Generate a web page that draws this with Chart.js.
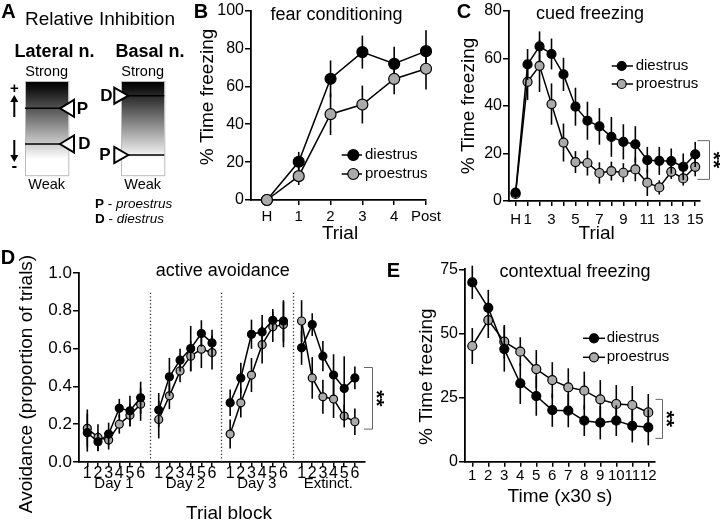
<!DOCTYPE html>
<html>
<head>
<meta charset="utf-8">
<title>Estrous phase and fear behaviour</title>
<script src="https://cdn.jsdelivr.net/npm/chart.js@4.4.1/dist/chart.umd.min.js"></script>
<style>
  body { margin: 0; background: #fff; }
  #figura { position: relative; width: 720px; height: 524px; overflow: hidden; background: #fff; }
  #figura canvas { position: absolute; }
</style>
</head>
<body>
<div id="figura">
  <canvas id="panel_a" width="200" height="240" style="left:0;top:0"></canvas>
  <canvas id="grafica_b" width="260" height="250" style="left:190px;top:0"></canvas>
  <canvas id="grafica_c" width="280" height="250" style="left:440px;top:0"></canvas>
  <canvas id="grafica_d" width="400" height="274" style="left:0;top:250px"></canvas>
  <canvas id="grafica_e" width="340" height="274" style="left:380px;top:250px"></canvas>
</div>
<script>
var FUENTE = '"Liberation Sans", Arial, Helvetica, sans-serif';
var GRIS = '#aaaaaa';

// B - fear conditioning
var ensayos_B = ['H', '1', '2', '3', '4', 'Post'];
var diestrus_B = [0, 20.2, 64.0, 78.1, 71.9, 78.6];
var diestrus_B_err = [0, 5.2, 9.7, 8.7, 9.0, 11.0];
var proestrus_B = [0, 12.6, 45.3, 50.4, 63.9, 69.3];
var proestrus_B_err = [0, 4.7, 11.0, 10.0, 8.0, 11.0];

// C - cued freezing
var ensayos_C = ['H', '1', '', '3', '', '5', '', '7', '', '9', '', '11', '', '13', '', '15'];
var diestrus_C = [3.5, 57.5, 65.1, 61.9, 53.3, 39.7, 33.8, 31.4, 27.0, 24.9, 23.9, 17.2, 16.9, 16.8, 14.4, 19.6];
var diestrus_C_err = [0, 6.5, 6.3, 6.5, 7.0, 8.0, 8.0, 7.7, 8.4, 7.4, 7.6, 5.6, 5.9, 5.3, 5.6, 5.3];
var proestrus_C = [3.0, 50.2, 56.9, 40.8, 24.6, 16.4, 16.0, 11.8, 12.6, 11.9, 13.3, 7.7, 5.7, 12.3, 9.5, 14.4];
var proestrus_C_err = [0, 7.7, 11.0, 8.7, 8.0, 4.6, 5.3, 4.5, 4.0, 4.0, 5.0, 5.6, 3.0, 3.0, 3.0, 4.0];

// D - active avoidance (6 blocks per day)
var bloques_D = ['1', '2', '3', '4', '5', '6'];
var dias_D = ['Day 1', 'Day 2', 'Day 3', 'Extinct.'];
var diestrus_D = [0.155, 0.107, 0.148, 0.284, 0.271, 0.340,
                  0.275, 0.451, 0.539, 0.600, 0.680, 0.630,
                  0.313, 0.445, 0.676, 0.688, 0.750, 0.746,
                  0.604, 0.727, 0.560, 0.460, 0.389, 0.445];
var diestrus_D_err = [0.10, 0.05, 0.06, 0.05, 0.08, 0.085,
                      0.09, 0.10, 0.06, 0.12, 0.07, 0.07,
                      0.07, 0.08, 0.077, 0.09, 0.06, 0.11,
                      0.09, 0.06, 0.08, 0.11, 0.17, 0.06];
var proestrus_D = [0.178, 0.130, 0.116, 0.200, 0.248, 0.306,
                   0.225, 0.350, 0.482, 0.560, 0.597, 0.579,
                   0.148, 0.313, 0.460, 0.621, 0.715, 0.727,
                   0.746, 0.445, 0.345, 0.333, 0.243, 0.213];
var proestrus_D_err = [0.10, 0.07, 0.05, 0.05, 0.06, 0.088,
                       0.10, 0.07, 0.06, 0.08, 0.10, 0.09,
                       0.077, 0.077, 0.09, 0.10, 0.08, 0.12,
                       0.11, 0.11, 0.09, 0.10, 0.06, 0.07];

// E - contextual freezing
var tiempo_E = ['1', '2', '3', '4', '5', '6', '7', '8', '9', '10', '11', '12'];
var diestrus_E = [69.9, 60.0, 43.9, 30.5, 25.6, 20.1, 19.9, 16.0, 15.2, 16.0, 14.0, 13.4];
var diestrus_E_err = [6.5, 7.0, 8.8, 8.0, 7.7, 6.5, 6.5, 6.0, 6.5, 6.0, 6.5, 7.0];
var proestrus_E = [45.1, 55.2, 46.8, 42.9, 36.1, 31.8, 29.0, 27.7, 24.3, 22.5, 22.1, 19.2];
var proestrus_E_err = [7.0, 7.0, 6.5, 5.6, 7.4, 7.0, 7.4, 7.4, 7.5, 7.4, 7.4, 7.2];

var separacion_D = 6.7;   // distance between day groups on the x scale

Chart.defaults.font.family = FUENTE;
Chart.defaults.color = '#000';

function escribir(ctx, t, x, y, fuente, alinear, rot) {
    ctx.save();
    ctx.translate(x, y);
    if (rot) ctx.rotate(rot);
    ctx.font = fuente + ' ' + FUENTE;
    ctx.fillStyle = '#000';
    ctx.textAlign = alinear || 'center';
    ctx.textBaseline = 'middle';
    ctx.fillText(t, 0, 0);
    ctx.restore();
}

function serie(nombre, xs, ys, errs, relleno, radio, orden) {
    return {
        label: nombre,
        data: ys.map(function (v, i) { return { x: xs[i], y: v, e: errs[i] }; }),
        borderColor: '#000',
        borderWidth: 1.5,
        pointRadius: radio,
        pointHoverRadius: radio,
        pointBackgroundColor: relleno,
        pointBorderColor: '#000',
        pointBorderWidth: 1.2,
        tension: 0,
        clip: false,
        order: orden
    };
}

// D: one line per day, broken with null points
function serie_dias(nombre, ys, errs, relleno, radio) {
    var datos = [];
    ys.forEach(function (v, i) {
        var g = Math.floor(i / 6);
        if (i > 0 && i % 6 == 0) datos.push({ x: g * separacion_D - 0.85, y: null });
        datos.push({ x: g * separacion_D + i % 6, y: v, e: errs[i] });
    });
    var s = serie(nombre, [], [], [], relleno, radio, 0);
    s.data = datos;
    return s;
}

function eje_x(min, max, posiciones, etiquetas, alto, tam, pad) {
    return {
        type: 'linear', min: min, max: max,
        afterBuildTicks: function (s) {
            s.ticks = posiciones.map(function (v) { return { value: v }; });
        },
        afterFit: function (s) { s.height = alto; },
        ticks: {
            autoSkip: false, maxRotation: 0, minRotation: 0, padding: pad,
            font: { size: tam }, color: '#000',
            callback: function (v, i) { return etiquetas[i]; }
        },
        grid: { display: true, drawOnChartArea: false, drawTicks: true, tickLength: 5, color: '#000', lineWidth: 1.5 },
        border: { display: true, color: '#000', width: 1.8 }
    };
}

function eje_y(max, paso, ancho, tam, decimales) {
    return {
        type: 'linear', min: 0, max: max,
        afterFit: function (s) { s.width = ancho; },
        ticks: {
            stepSize: paso, padding: 1, font: { size: tam }, color: '#000',
            callback: function (v) { return v.toFixed(decimales); }
        },
        grid: { display: true, drawOnChartArea: false, drawTicks: true, tickLength: 6, color: '#000', lineWidth: 1.5 },
        border: { display: true, color: '#000', width: 1.8 }
    };
}

var plugin_errores = {
    id: 'errores',
    beforeDatasetDraw: function (chart, args) {
        var ds = chart.data.datasets[args.index];
        var ctx = chart.ctx, xs = chart.scales.x, ys = chart.scales.y;
        ctx.save();
        ctx.strokeStyle = '#000';
        ctx.lineWidth = 1.6;
        ds.data.forEach(function (p) {
            if (p.y == null || !p.e) return;
            var x = xs.getPixelForValue(p.x);
            ctx.beginPath();
            ctx.moveTo(x, ys.getPixelForValue(p.y - p.e));
            ctx.lineTo(x, ys.getPixelForValue(p.y + p.e));
            ctx.stroke();
        });
        ctx.restore();
    }
};

function plugin_anotaciones(cfg) {
    return {
        id: 'anotaciones',
        beforeDatasetsDraw: function (chart) {
            if (!cfg.separadores) return;
            var ctx = chart.ctx, xs = chart.scales.x, ys = chart.scales.y;
            ctx.save();
            ctx.strokeStyle = '#333';
            ctx.lineWidth = 1.3;
            ctx.setLineDash([1.3, 2.2]);
            cfg.separadores.forEach(function (v) {
                var x = Math.round(xs.getPixelForValue(v)) + 0.5;
                ctx.beginPath();
                ctx.moveTo(x, ys.getPixelForValue(0));
                ctx.lineTo(x, ys.getPixelForValue(cfg.tope_separador));
                ctx.stroke();
            });
            ctx.restore();
        },
        afterDraw: function (chart) {
            var ctx = chart.ctx, xs = chart.scales.x, ys = chart.scales.y;
            escribir(ctx, cfg.letra[0], cfg.letra[1], cfg.letra[2], 'bold 20px');
            escribir(ctx, cfg.titulo[0], cfg.titulo[1], cfg.titulo[2], '18px');
            escribir(ctx, cfg.titulo_y[0], cfg.titulo_y[1], cfg.titulo_y[2], '19px', 'center', -Math.PI / 2);
            escribir(ctx, cfg.titulo_x[0], cfg.titulo_x[1], cfg.titulo_x[2], '19px');
            if (cfg.grupos) {
                cfg.grupos.etiquetas.forEach(function (t, g) {
                    escribir(ctx, t, xs.getPixelForValue(g * separacion_D + 2.5), cfg.grupos.y, '15px');
                });
            }
            if (cfg.leyenda) {
                var l = cfg.leyenda;
                l.filas.forEach(function (f) {
                    ctx.save();
                    ctx.strokeStyle = '#000';
                    ctx.lineWidth = 1.5;
                    ctx.beginPath();
                    ctx.moveTo(l.x1, f[1]);
                    ctx.lineTo(l.x2, f[1]);
                    ctx.stroke();
                    ctx.beginPath();
                    ctx.arc(l.xm, f[1], l.r, 0, Math.PI * 2);
                    ctx.fillStyle = f[2];
                    ctx.fill();
                    ctx.lineWidth = 1.2;
                    ctx.stroke();
                    ctx.restore();
                    escribir(ctx, f[0], l.xt, f[1], '15px', 'left');
                });
            }
            if (cfg.llave) {
                var k = cfg.llave;
                var x = Math.round(xs.getPixelForValue(k.x)) + 0.5;
                var y1 = ys.getPixelForValue(k.y1), y2 = ys.getPixelForValue(k.y2);
                ctx.save();
                ctx.strokeStyle = '#666';
                ctx.lineWidth = 1;
                ctx.beginPath();
                ctx.moveTo(x - k.largo, y1);
                ctx.lineTo(x, y1);
                ctx.lineTo(x, y2);
                ctx.lineTo(x - k.largo, y2);
                ctx.stroke();
                ctx.restore();
                escribir(ctx, '**', x + 3, (y1 + y2) / 2, 'bold 21px', 'center', Math.PI / 2);
            }
        }
    };
}

function crear_grafica(id, datasets, escalas, padding, cfg) {
    return new Chart(document.getElementById(id), {
        type: 'line',
        data: { datasets: datasets },
        options: {
            responsive: false,
            animation: false,
            devicePixelRatio: 1,
            events: [],
            layout: { padding: padding },
            scales: escalas,
            plugins: { legend: { display: false }, tooltip: { enabled: false } }
        },
        plugins: [plugin_errores, plugin_anotaciones(cfg)]
    });
}

function indices(n) {
    var r = [];
    for (var i = 0; i < n; i++) r.push(i);
    return r;
}

function grafica_b() {
    var xs = indices(ensayos_B.length);
    crear_grafica('grafica_b', [
        serie('diestrus', xs, diestrus_B, diestrus_B_err, '#000', 5.5, 1),
        serie('proestrus', xs, proestrus_B, proestrus_B_err, GRIS, 5.5, 0)
    ], {
        x: eje_x(-0.5, 5, xs, ensayos_B, 50, 15, 3),
        y: eje_y(100, 20, 61, 16, 0)
    }, { left: 0, right: 24, top: 10, bottom: 0 }, {
        letra: ['B', 11, 12],
        titulo: ['fear conditioning', 146.5, 15],
        titulo_y: ['% Time freezing', 17.5, 97],
        titulo_x: ['Trial', 150, 234],
        leyenda: { x1: 151.7, x2: 172, xm: 163.3, xt: 175, r: 5.5,
                   filas: [['diestrus', 155, '#000'], ['proestrus', 174, GRIS]] }
    });
}

function grafica_c() {
    var xs = indices(ensayos_C.length);
    crear_grafica('grafica_c', [
        serie('diestrus', xs, diestrus_C, diestrus_C_err, '#000', 4.5, 0),
        serie('proestrus', xs, proestrus_C, proestrus_C_err, GRIS, 4.5, 1)
    ], {
        x: eje_x(-0.55, 15.4, xs, ensayos_C, 49, 15, 5),
        y: eje_y(80, 20, 69, 16, 0)
    }, { left: 0, right: 20, top: 11, bottom: 0 }, {
        letra: ['C', 24, 12],
        titulo: ['cued freezing', 150, 14],
        titulo_y: ['% Time freezing', 29, 106],
        titulo_x: ['Trial', 156.7, 234],
        leyenda: { x1: 171.7, x2: 193, xm: 181.7, xt: 195.7, r: 4.5,
                   filas: [['diestrus', 66, '#000'], ['proestrus', 84, GRIS]] },
        llave: { x: 16.14, y1: 25.4, y2: 9.1, largo: 12 }
    });
}

function grafica_d() {
    var xs = [], etiquetas = [], separadores = [];
    dias_D.forEach(function (d, g) {
        bloques_D.forEach(function (b, i) {
            xs.push(g * separacion_D + i);
            etiquetas.push(b);
        });
        if (g > 0) separadores.push(g * separacion_D - 0.85);
    });
    crear_grafica('grafica_d', [
        serie_dias('diestrus', diestrus_D, diestrus_D_err, '#000', 4),
        serie_dias('proestrus', proestrus_D, proestrus_D_err, GRIS, 4)
    ], {
        x: eje_x(-0.78, 26.05, xs, etiquetas, 62, 16, -3),
        y: eje_y(1, 0.2, 79, 17, 1)
    }, { left: 0, right: 35, top: 23, bottom: 0 }, {
        letra: ['D', 8, 8],
        titulo: ['active avoidance', 222.8, 20.7],
        titulo_y: ['Avoidance (proportion of trials)', 27, 134],
        titulo_x: ['Trial block', 229, 263.5],
        grupos: { etiquetas: dias_D, y: 234 },
        separadores: separadores,
        tope_separador: 0.9,
        llave: { x: 26.68, y1: 0.5, y2: 0.174, largo: 8.4 }
    });
}

function grafica_e() {
    var xs = tiempo_E.map(function (t) { return parseInt(t); });
    crear_grafica('grafica_e', [
        serie('diestrus', xs, diestrus_E, diestrus_E_err, '#000', 4.5, 0),
        serie('proestrus', xs, proestrus_E, proestrus_E_err, GRIS, 4.5, 1)
    ], {
        x: eje_x(0.544, 12.42, xs, tiempo_E, 62.3, 15, 0),
        y: eje_y(75, 25, 85, 16, 0)
    }, { left: 0, right: 65, top: 19.3, bottom: 0 }, {
        letra: ['E', 13.5, 21.7],
        titulo: ['contextual freezing', 195, 22],
        titulo_y: ['% Time freezing', 47, 126.7],
        titulo_x: ['Time (x30 s)', 180, 246.7],
        leyenda: { x1: 203, x2: 225, xm: 214, xt: 226.7, r: 4.5,
                   filas: [['diestrus', 88.3, '#000'], ['proestrus', 107.3, GRIS]] },
        llave: { x: 12.87, y1: 24.3, y2: 9.1, largo: 7 }
    });
}

function triangulo(ctx, punta, base, y, h) {
    ctx.beginPath();
    ctx.moveTo(punta, y);
    ctx.lineTo(base, y - h);
    ctx.lineTo(base, y + h);
    ctx.closePath();
    ctx.fillStyle = '#fff';
    ctx.fill();
    ctx.lineWidth = 2;
    ctx.strokeStyle = '#000';
    ctx.stroke();
}

function linea(ctx, x1, y1, x2, y2, ancho) {
    ctx.beginPath();
    ctx.moveTo(x1, y1);
    ctx.lineTo(x2, y2);
    ctx.lineWidth = ancho;
    ctx.strokeStyle = '#000';
    ctx.stroke();
}

function flecha(ctx, x, desde, hasta) {
    linea(ctx, x, desde, x, hasta, 2);
    var d = hasta > desde ? 1 : -1;
    ctx.beginPath();
    ctx.moveTo(x, hasta + d * 2);
    ctx.lineTo(x - 4, hasta - d * 5);
    ctx.lineTo(x + 4, hasta - d * 5);
    ctx.closePath();
    ctx.fillStyle = '#000';
    ctx.fill();
}

// panel A is a schematic, drawn directly on its canvas
function dibujar_panel_a() {
    var ctx = document.getElementById('panel_a').getContext('2d');
    escribir(ctx, 'A', 8.5, 12, 'bold 20px');
    escribir(ctx, 'Relative Inhibition', 100, 20, '19px');
    escribir(ctx, 'Lateral n.', 54.5, 52, 'bold 18px');
    escribir(ctx, 'Basal n.', 150, 52, 'bold 18px');
    [46.7, 142.7].forEach(function (cx) {
        escribir(ctx, 'Strong', cx, 72, '14.5px');
        escribir(ctx, 'Weak', cx, 184.5, '14.5px');
        var x0 = cx - 21.7;
        var g = ctx.createLinearGradient(0, 81, 0, 176);
        g.addColorStop(0, '#000');
        g.addColorStop(0.08, '#111');
        g.addColorStop(0.82, '#fff');
        g.addColorStop(1, '#fff');
        ctx.fillStyle = g;
        ctx.fillRect(x0, 81, 43.3, 94.7);
        ctx.strokeStyle = '#bbb';
        ctx.lineWidth = 1;
        ctx.strokeRect(x0 + 0.5, 81.5, 43.3, 94.2);
    });
    // lateral nucleus
    linea(ctx, 25, 108.3, 68, 108.3, 1.5);
    triangulo(ctx, 60, 74, 108.3, 8.5);
    escribir(ctx, 'P', 82.5, 109, 'bold 17px');
    linea(ctx, 25, 144, 68, 144, 1.5);
    triangulo(ctx, 60, 74, 144, 8.5);
    escribir(ctx, 'D', 84.5, 144, 'bold 17px');
    escribir(ctx, '+', 14.3, 89, 'bold 15px');
    flecha(ctx, 14.3, 117, 97);
    flecha(ctx, 14.3, 140, 160);
    escribir(ctx, '-', 14.3, 166, 'bold 17px');
    // basal nucleus
    linea(ctx, 121, 95.7, 164.3, 95.7, 1.5);
    triangulo(ctx, 128.3, 114.3, 95.7, 8);
    escribir(ctx, 'D', 106.5, 96, 'bold 17px');
    linea(ctx, 121, 155, 164.3, 155, 1.5);
    triangulo(ctx, 128.3, 114.3, 155, 8);
    escribir(ctx, 'P', 105, 155, 'bold 17px');
    // key
    [['P', 'proestrus', 204], ['D', 'diestrus', 219]].forEach(function (f) {
        var x = 95;
        ctx.font = 'bold 13.5px ' + FUENTE;
        escribir(ctx, f[0], x, f[2], 'bold 13.5px', 'left');
        x += ctx.measureText(f[0]).width;
        ctx.font = '13.5px ' + FUENTE;
        escribir(ctx, ' - ', x, f[2], '13.5px', 'left');
        x += ctx.measureText(' - ').width;
        escribir(ctx, f[1], x, f[2], 'italic 13.5px', 'left');
    });
}

dibujar_panel_a();
grafica_b();
grafica_c();
grafica_d();
grafica_e();
</script>
</body>
</html>
